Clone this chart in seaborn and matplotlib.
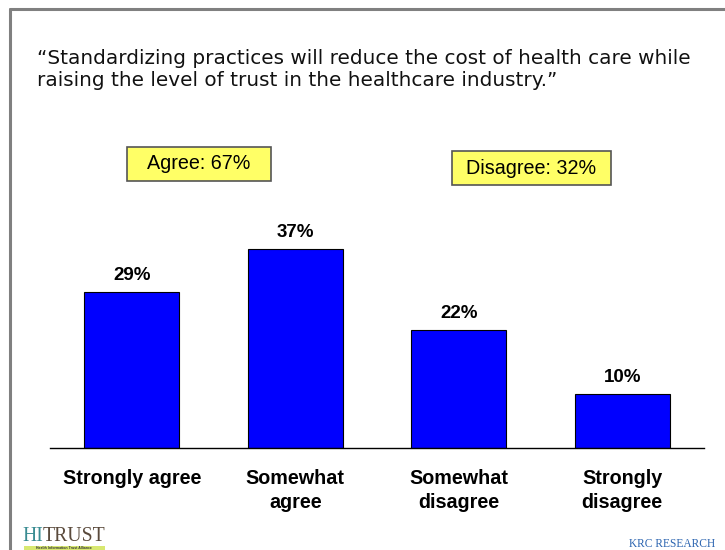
import matplotlib
matplotlib.use("Agg")
import matplotlib.pyplot as plt
import seaborn as sns
import pandas as pd
from matplotlib.patches import Rectangle
from matplotlib.lines import Line2D

categories = ["Strongly agree", "Somewhat\nagree", "Somewhat\ndisagree", "Strongly\ndisagree"]
values = [29, 37, 22, 10]
value_labels = ["29%", "37%", "22%", "10%"]
summary_labels = ["Agree: 67%", "Disagree: 32%"]
title_text = ("\u201cStandardizing practices will reduce the cost of health care while\n"
              "raising the level of trust in the healthcare industry.\u201d")

df = pd.DataFrame({"category": categories, "value": values})

sns.set_theme(style="white")
plt.rcParams["font.family"] = ["Liberation Sans", "DejaVu Sans"]

W, H = 725, 550
fig = plt.figure(figsize=(W / 100, H / 100), dpi=100)
fig.patch.set_facecolor("white")

# axes placed in pixel terms: baseline at y=448, x from 50 to 704
ax_left, ax_right = 50, 704
ax_bottom, ax_top = 448, 179.5
ax = fig.add_axes([ax_left / W, 1 - ax_bottom / H,
                   (ax_right - ax_left) / W, (ax_bottom - ax_top) / H])

sns.barplot(data=df, x="category", y="value", ax=ax, color="#0000FF",
            saturation=1, width=0.58, edgecolor="black", linewidth=0.8)
ax.set_xlim(-0.5, 3.5)
ax.set_ylim(0, 50)
for s in ["top", "right", "left"]:
    ax.spines[s].set_visible(False)
ax.spines["bottom"].set_color("black")
ax.spines["bottom"].set_linewidth(1.0)
ax.set_yticks([])
ax.set_xlabel("")
ax.set_ylabel("")
ax.tick_params(axis="x", length=0, pad=15)
ax.set_xticks(range(len(categories)))
ax.set_xticklabels(categories, fontsize=14.2, fontweight="bold", color="black",
                   linespacing=1.33, va="top")

for i, (v, lab) in enumerate(zip(values, value_labels)):
    ax.text(i, v + 1.5, lab, ha="center", va="bottom", fontsize=13.5,
            fontweight="bold", color="black")

# summary boxes
def px_box(x0, y0, x1, y1, text):
    fig.patches.append(Rectangle((x0 / W, 1 - y1 / H), (x1 - x0) / W, (y1 - y0) / H,
                                 transform=fig.transFigure, facecolor="#FFFF66",
                                 edgecolor="#555555", linewidth=1.2))
    fig.text((x0 + x1) / 2 / W, 1 - (y0 + y1) / 2 / H, text, ha="center",
             va="center", fontsize=14.2, color="black")

px_box(127, 147, 271, 181, summary_labels[0])
px_box(452, 151, 611, 185, summary_labels[1])

# title
fig.text(37 / W, 1 - 49 / H, title_text, ha="left", va="top", fontsize=14.4,
         family="DejaVu Sans", color="#111111", linespacing=1.2)

# page frame
fig.add_artist(Line2D([9.5 / W, 9.5 / W], [0, 1 - 9 / H], transform=fig.transFigure,
                      color="#808080", linewidth=2.2))
fig.add_artist(Line2D([9.5 / W, 1], [1 - 9 / H, 1 - 9 / H], transform=fig.transFigure,
                      color="#808080", linewidth=2.2))

# footer logos
fig.text(22 / W, 1 - 541 / H, "HI", ha="left", va="baseline", fontsize=14.2,
         family="Liberation Serif", color="#3A8C92")
fig.text(43 / W, 1 - 541 / H, "TRUST", ha="left", va="baseline", fontsize=14.2,
         family="Liberation Serif", color="#5A4A3C")
fig.patches.append(Rectangle((24 / W, 0), 81 / W, 4.5 / H, transform=fig.transFigure,
                             facecolor="#D8E870", edgecolor="none"))
fig.text(64 / W, 1.8 / H, "Health Information Trust Alliance", ha="center",
         va="center", fontsize=2.5, fontweight="bold", color="#333333")
fig.text(715 / W, 1 - 547 / H, "KRC RESEARCH", ha="right", va="baseline",
         fontsize=8.3, family="Liberation Serif", color="#2B64B0")

fig.savefig("out.png", dpi=100, facecolor="white")
